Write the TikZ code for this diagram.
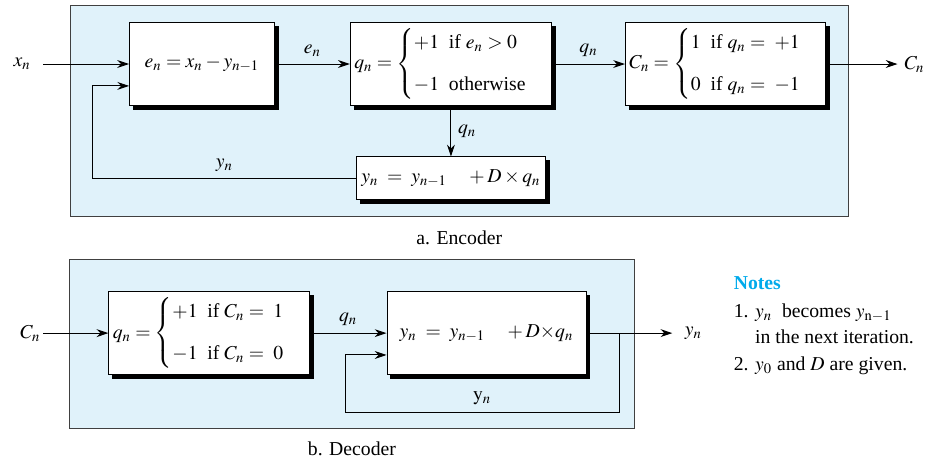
\documentclass[tikz,border=0pt]{standalone}
\usepackage{mathptmx}
\usepackage{amsmath}
\usepackage{fontspec}
\setmainfont{Liberation Serif}
\usepackage{xcolor}
\usepackage{tikz}
\usetikzlibrary{arrows.meta,positioning,calc,fit}
\pgfdeclarelayer{background}
\pgfdeclarelayer{shadow}
\pgfsetlayers{background,shadow,main}
\definecolor{panelblue}{RGB}{224,242,250}
\definecolor{notecyan}{RGB}{0,170,235}

\begin{document}
\begin{tikzpicture}[auto, >={Stealth[length=6pt,width=4pt]}]
        \tikzset{
            block/.style={draw, fill=white, rectangle, minimum height=1.48cm, inner sep=2pt, align=center, line width=0.5pt},
            frame/.style={draw=black!75, fill=panelblue, rectangle, inner sep=0pt, outer sep=0pt, line width=0.6pt},
            line/.style={->, line width=0.5pt},
            input/.style={coordinate},
            output/.style={coordinate}
        }
        
        % Encoder
        \node [input] (x_in) {};
        \node [block, minimum width=2.58cm, right=1.53cm of x_in] (enc_e) {$e_n = x_n - y_{n-1}$};
        \node [block, minimum width=3.23cm, right=1.34cm of enc_e] (enc_q) {$q_n = \begin{cases} +1\ \ \text{if } e_n > 0 \\[7pt] -1\ \ \text{otherwise} \end{cases}$};
        \node [block, minimum width=3.09cm, right=1.30cm of enc_q] (enc_c) {$C_n = \begin{cases} 1\ \ \text{if } q_n = \ +1 \\[7pt] 0\ \ \text{if } q_n = \ -1 \end{cases}$};
        \node [output, right=1.27cm of enc_c] (c_out) {};
        \node [block, minimum width=3.37cm, minimum height=0.76cm, below=0.90cm of enc_q] (enc_y) {$y_n \;=\; y_{n-1} \quad + D \times q_n$};
        
        \draw [line] (x_in) -- (enc_e);
        \node [left=0.1cm of x_in] {$x_n$};
        \draw [line] (enc_e) -- node [above] {$e_n$} (enc_q);
        \draw [line] (enc_q) -- node [above] {$q_n$} (enc_c);
        \draw [line] (enc_c) -- (c_out);
        \node [right=0pt of c_out] {$C_n$};
        \draw [line] (enc_q.south) -- node [right] {$q_n$} (enc_y.north);
        
        % Feedback y_n
        \coordinate (enc_fb) at ($(enc_e.west)+(-0.65,-0.39)$);
        \draw [line] (enc_y.west) -| node [above, pos=0.25] {$y_n$} (enc_fb) -- (enc_fb -| enc_e.west);
        
        \coordinate (enc_tl) at ($(enc_e.north west)+(-1.05,0.30)$);
        \coordinate (enc_br) at ($(enc_c.east |- enc_y.south)+(0.39,-0.30)$);
        \begin{pgfonlayer}{background}
            \node [frame, fit=(enc_tl)(enc_br)] (enc_frame) {};
        \end{pgfonlayer}
        \node [below=0.12cm of enc_frame] {a. Encoder};
        
        % Decoder
        \node [input, below=4.80cm of x_in] (cn_in) {};
        \node [block, minimum width=3.55cm, right=1.16cm of cn_in] (dec_q) {$q_n = \begin{cases} +1\ \ \text{if } C_n = \ 1 \\[7pt] -1\ \ \text{if } C_n = \ 0 \end{cases}$};
        \node [block, minimum width=3.55cm, right=1.37cm of dec_q] (dec_y) {$y_n \;=\; y_{n-1} \quad + D{\times}q_n$};
        \node [output, right=1.53cm of dec_y] (yn_out) {};
        
        \draw [line] (cn_in) -- (dec_q);
        \node [left=-2pt of cn_in] {$C_n$};
        \draw [line] (dec_q) -- node [above] {$q_n$} (dec_y);
        \draw [line] (dec_y) -- (yn_out);
        \node [right=0.1cm of yn_out] {$y_n$};
        
        % Feedback y_n
        \coordinate (dec_split) at ($(dec_y.east)+(0.58,0)$);
        \coordinate (dec_low) at ($(dec_split)+(0,-1.41)$);
        \coordinate (dec_fb) at ($(dec_y.west)+(-0.74,-0.39)$);
        \draw [line] (dec_split) -- (dec_low) -| node [above, pos=0.25] {$\mathrm{y}_n$} (dec_fb) -- (dec_fb -| dec_y.west);
        
        \coordinate (dec_tl) at ($(dec_q.north west)+(-0.70,0.56)$);
        \coordinate (dec_br) at ($(dec_y.east)+(0.86,-1.70)$);
        \begin{pgfonlayer}{background}
            \node [frame, fit=(dec_tl)(dec_br)] (dec_frame) {};
        \end{pgfonlayer}
        \node [below=0.12cm of dec_frame] {b. Decoder};
        
        % Shadows
        \begin{pgfonlayer}{shadow}
            \foreach \bx in {enc_e, enc_q, enc_c, enc_y, dec_q, dec_y}
                \fill [black] ($(\bx.south west)+(2pt,-2pt)$) rectangle ($(\bx.north east)+(2pt,-2pt)$);
        \end{pgfonlayer}
        
        % Notes
        \node [anchor=north west, inner sep=0pt, align=left] (notes) at ($(dec_frame.north east)+(1.76,-0.30)$) {{\color{notecyan}\bfseries Notes}\\[2pt]
            1. $y_n$\ \ becomes $y_{\mathrm{n}-1}$\\[1pt]
            \phantom{1. }in the next iteration.\\[2pt]
            2. $y_0$ and $D$ are given.};
        
        \useasboundingbox (-0.773,1.142) rectangle (15.589,-7.083);
    \end{tikzpicture}
\end{document}
